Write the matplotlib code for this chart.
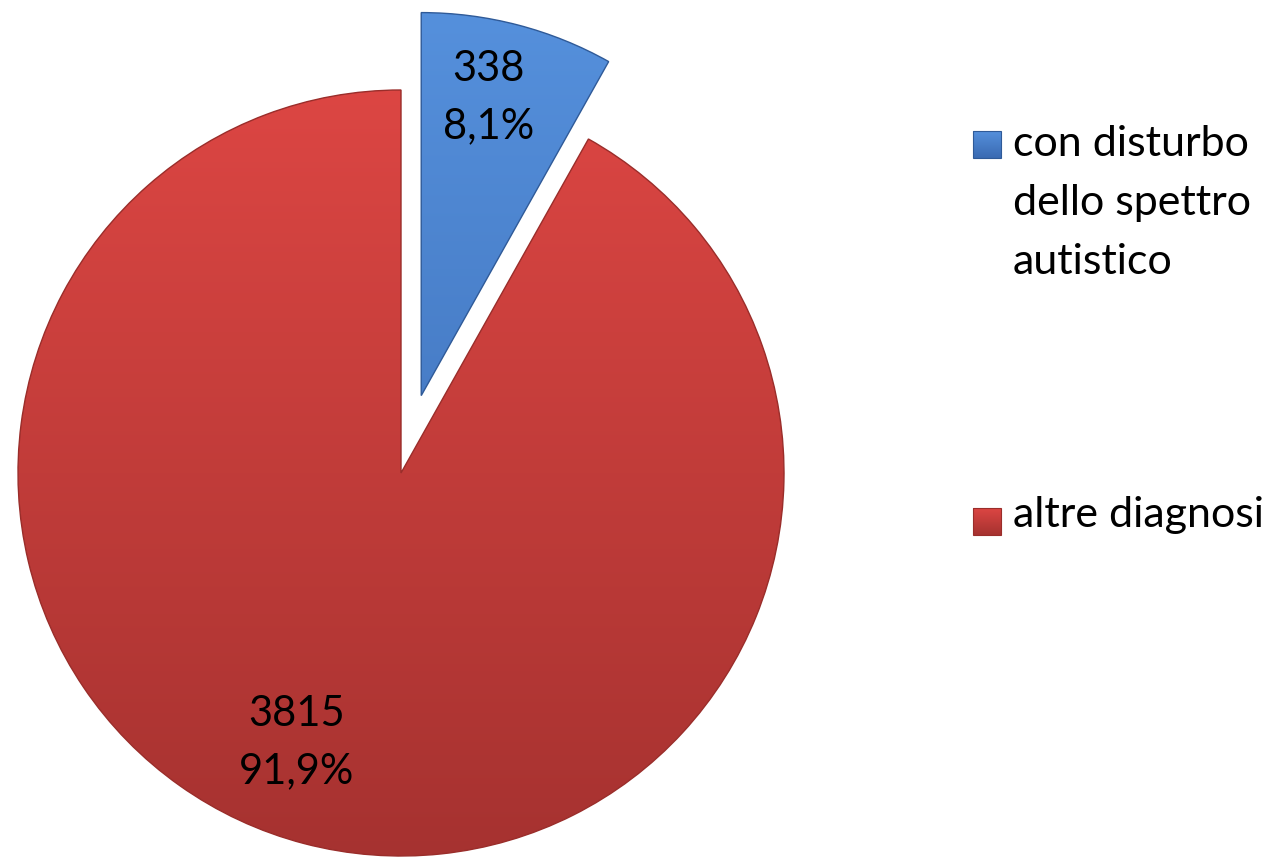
"""Torta: diagnosi con disturbo dello spettro autistico vs altre diagnosi."""

import matplotlib

matplotlib.use("Agg")
import matplotlib.pyplot as plt
import numpy as np
from matplotlib.colors import LinearSegmentedColormap
from matplotlib.patches import Rectangle

categories = ["con disturbo\ndello spettro\nautistico", "altre diagnosi"]
counts = [338, 3815]
explode_px = [80, 0]

base_colors = ["#4a82cf", "#cf3f3c"]
grad_colors = [("#3a6ab2", "#5590dc"), ("#a63230", "#dc4643")]
edge_colors = ["#2f5a98", "#9a2d2a"]

W, H = 1283, 858
CX, CY, R = 401, 385, 383

plt.rcParams["font.family"] = ["Lato", "DejaVu Sans"]

fig = plt.figure(figsize=(W / 100, H / 100), dpi=100)
ax = fig.add_axes([0, 0, 1, 1])

total = sum(counts)


def fmt(pct):
    n = int(round(pct * total / 100))
    return f"{n}\n{pct:.1f}%".replace(".", ",")


def vgrad(extent, c0, c1, clip, z):
    cmap = LinearSegmentedColormap.from_list("g", [c0, c1])
    grad = np.linspace(0, 1, 256).reshape(-1, 1)
    im = ax.imshow(grad, extent=extent, origin="lower", cmap=cmap, aspect="auto", zorder=z)
    im.set_clip_path(clip)
    return im


wedges, _, autotexts = ax.pie(
    counts, explode=explode_px, colors=base_colors, startangle=90,
    counterclock=False, radius=R, center=(CX, CY), autopct=fmt,
    pctdistance=0.79, textprops=dict(fontsize=30, color="black", linespacing=1.62),
)

for w, (c0, c1), ec in zip(wedges, grad_colors, edge_colors):
    cx, cy = w.center
    vgrad([cx - R, cx + R, cy - R, cy + R], c0, c1, w, 1)
    w.set_facecolor("none")
    w.set_edgecolor(ec)
    w.set_linewidth(1.0)
    w.set_zorder(2)

# posizioni delle etichette come nell'originale
bx, by = wedges[0].center
autotexts[0].set_position((bx + 67, by + 298))
autotexts[1].set_position((CX - 104, CY - 270))
for t in autotexts:
    t.set_zorder(3)

# legenda disegnata a mano (quadratino allineato alla prima riga)
sq_y = [700, 323]
txt_y = [584, 331]
for lab, (c0, c1), ec, ys, yt in zip(categories, grad_colors, edge_colors, sq_y, txt_y):
    sq = Rectangle((973, ys), 28, 27, facecolor="none", edgecolor=ec, lw=0.8, zorder=4)
    ax.add_patch(sq)
    vgrad([973, 1001, ys, ys + 27], c0, c1, sq, 3)
    ax.text(1013, yt, lab, fontsize=31, va="baseline", ha="left", linespacing=1.67, zorder=3)

ax.set_xlim(0, W)
ax.set_ylim(0, H)
ax.set_aspect("auto")
ax.axis("off")

fig.savefig("out.png", dpi=100, facecolor="white")
